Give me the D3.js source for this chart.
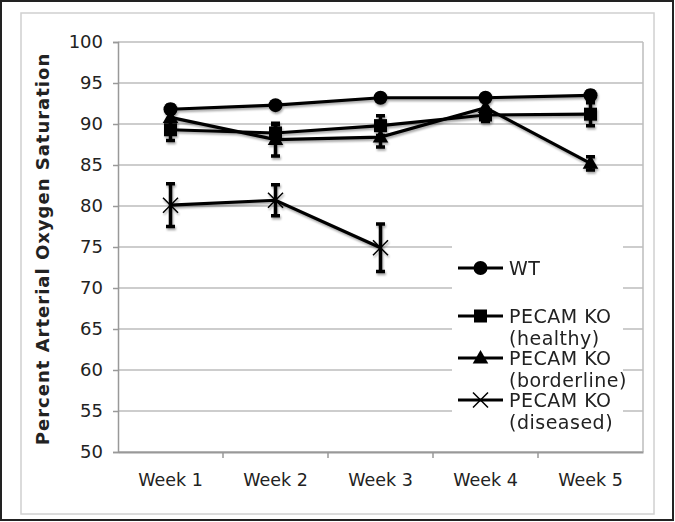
<!DOCTYPE html>
<html>
<head>
<meta charset="utf-8">
<script src="https://cdn.jsdelivr.net/npm/d3@7"></script>
<style>
  body { margin: 0; background: #fff; }
  svg text { font-family: "DejaVu Sans", Verdana, sans-serif; fill: #222; }
</style>
</head>
<body>
<svg id="chart" width="675" height="522"></svg>
<script>
// values
var weeks = ["Week 1", "Week 2", "Week 3", "Week 4", "Week 5"]
var yTicks = [50, 55, 60, 65, 70, 75, 80, 85, 90, 95, 100]

var wt = [91.8, 92.3, 93.2, 93.2, 93.5]
var wtErr = [0.5, 0.4, 0.4, 0.4, 0.5]

var healthy = [89.3, 88.9, 89.8, 91.1, 91.2]
var healthyErr = [1.3, 1.0, 1.2, 0.8, 1.4]

var borderline = [90.8, 88.1, 88.4, 92.0, 85.2]
var borderlineErr = [1.0, 2.0, 1.2, 0.8, 0.8]

var diseased = [80.1, 80.7, 74.9]
var diseasedErr = [2.6, 1.9, 2.9]

var seriesNames = ["WT", "PECAM KO (healthy)", "PECAM KO (borderline)", "PECAM KO (diseased)"]

var series = [
  {name: seriesNames[0], lines: ["WT"], vals: wt, err: wtErr, shape: "circle"},
  {name: seriesNames[1], lines: ["PECAM KO", "(healthy)"], vals: healthy, err: healthyErr, shape: "square"},
  {name: seriesNames[2], lines: ["PECAM KO", "(borderline)"], vals: borderline, err: borderlineErr, shape: "triangle"},
  {name: seriesNames[3], lines: ["PECAM KO", "(diseased)"], vals: diseased, err: diseasedErr, shape: "x"}
]

var svg = d3.select("#chart")

// frame
svg.append("rect").attr("x", 1).attr("y", 1).attr("width", 672).attr("height", 519)
  .attr("fill", "#fff").attr("stroke", "#222").attr("stroke-width", 2)
svg.append("rect").attr("x", 21).attr("y", 13).attr("width", 633).attr("height", 501)
  .attr("fill", "none").attr("stroke", "#d0d0d0").attr("stroke-width", 1.5)

var pLeft = 118, pRight = 643, pTop = 42, pBottom = 452

var x = d3.scaleBand().domain(weeks).range([pLeft, pRight])
var y = d3.scaleLinear().domain([50, 100]).range([pBottom, pTop])

var defs = svg.append("defs")
var f = defs.append("filter").attr("id", "shadow").attr("x", "-10%").attr("y", "-10%")
  .attr("width", "130%").attr("height", "150%")
f.append("feGaussianBlur").attr("in", "SourceAlpha").attr("stdDeviation", 1.2).attr("result", "b")
f.append("feOffset").attr("in", "b").attr("dx", 1).attr("dy", 2).attr("result", "o")
f.append("feComponentTransfer").attr("in", "o").attr("result", "o2")
  .append("feFuncA").attr("type", "linear").attr("slope", 0.35)
var fm = f.append("feMerge")
fm.append("feMergeNode").attr("in", "o2")
fm.append("feMergeNode").attr("in", "SourceGraphic")

// gridlines
svg.append("g").selectAll("line").data(yTicks).enter().append("line")
  .attr("x1", pLeft).attr("x2", pRight)
  .attr("y1", d => y(d)).attr("y2", d => y(d))
  .attr("stroke", "#bdbdbd").attr("stroke-width", 1.5)
svg.append("line").attr("x1", pRight).attr("x2", pRight).attr("y1", pTop).attr("y2", pBottom)
  .attr("stroke", "#bdbdbd").attr("stroke-width", 1.5)

// legend background (covers gridlines)
svg.append("rect").attr("x", 452).attr("y", 246).attr("width", 171).attr("height", 194).attr("fill", "#fff")

// y axis
var yAxis = svg.append("g").attr("transform", "translate(" + pLeft + ",0)")
  .call(d3.axisLeft(y).tickValues(yTicks).tickSize(5).tickPadding(10))
yAxis.select(".domain").attr("stroke", "#999").attr("stroke-width", 1.5)
yAxis.selectAll(".tick line").attr("stroke", "#999").attr("stroke-width", 1.5)
yAxis.selectAll("text").style("font-size", "18px").attr("fill", "#222")

// x axis
var xAxis = svg.append("g").attr("transform", "translate(0," + pBottom + ")")
  .call(d3.axisBottom(x).tickSize(0).tickPadding(22))
xAxis.select(".domain").attr("stroke", "#999").attr("stroke-width", 2)
xAxis.selectAll("text").style("font-size", "17.5px").attr("fill", "#222")
svg.append("g").selectAll("line").data(weeks.slice(1)).enter().append("line")
  .attr("x1", d => x(d)).attr("x2", d => x(d))
  .attr("y1", pBottom).attr("y2", pBottom + 6)
  .attr("stroke", "#999").attr("stroke-width", 1.5)

svg.append("text")
  .attr("transform", "translate(49," + ((pTop + pBottom) / 2 + 2) + ") rotate(-90)")
  .attr("text-anchor", "middle")
  .style("font-size", "18px").style("font-weight", "bold").style("letter-spacing", "1px")
  .attr("fill", "#111")
  .text("Percent Arterial Oxygen Saturation")

function cx(i) { return x(weeks[i]) + x.bandwidth() / 2 }

function marker(g, shape, px, py) {
  if (shape == "circle") {
    g.append("circle").attr("cx", px).attr("cy", py).attr("r", 7).attr("fill", "#000")
  } else if (shape == "square") {
    g.append("rect").attr("x", px - 6.5).attr("y", py - 6.5).attr("width", 13).attr("height", 13).attr("fill", "#000")
  } else if (shape == "triangle") {
    g.append("path").attr("d", d3.symbol().type(d3.symbolTriangle).size(105)())
      .attr("transform", "translate(" + px + "," + (py + 1) + ")").attr("fill", "#000")
  } else {
    g.append("path")
      .attr("d", "M" + (px - 7.5) + "," + (py - 7.5) + "L" + (px + 7.5) + "," + (py + 7.5) +
        "M" + (px - 7.5) + "," + (py + 7.5) + "L" + (px + 7.5) + "," + (py - 7.5))
      .attr("stroke", "#000").attr("stroke-width", 1.5).attr("fill", "none")
  }
}

var line = d3.line().x((d, i) => cx(i)).y(d => y(d))

var plot = svg.append("g").attr("filter", "url(#shadow)")

series.forEach(function(s) {
  var g = plot.append("g")
  // error bars
  s.vals.forEach(function(v, i) {
    var e = s.err[i]
    g.append("path")
      .attr("d", "M" + cx(i) + "," + y(v - e) + "V" + y(v + e) +
        "M" + (cx(i) - 4.5) + "," + y(v + e) + "H" + (cx(i) + 4.5) +
        "M" + (cx(i) - 4.5) + "," + y(v - e) + "H" + (cx(i) + 4.5))
      .attr("stroke", "#000").attr("stroke-width", 3.5).attr("fill", "none")
  })
  g.append("path").datum(s.vals).attr("d", line)
    .attr("fill", "none").attr("stroke", "#000").attr("stroke-width", 3.2)
  s.vals.forEach(function(v, i) { marker(g, s.shape, cx(i), y(v)) })
})

// legend
var legY = [268, 316, 358, 400]
var leg = svg.append("g")
series.forEach(function(s, k) {
  var ly = legY[k]
  leg.append("line").attr("x1", 458).attr("x2", 503).attr("y1", ly).attr("y2", ly)
    .attr("stroke", "#000").attr("stroke-width", 3.2)
  marker(leg, s.shape, 480.5, ly)
  s.lines.forEach(function(t, j) {
    leg.append("text").attr("x", 509).attr("y", ly + 7 + j * 22)
      .style("font-size", "19px").style("letter-spacing", "0.5px").text(t)
  })
})
</script>
</body>
</html>
